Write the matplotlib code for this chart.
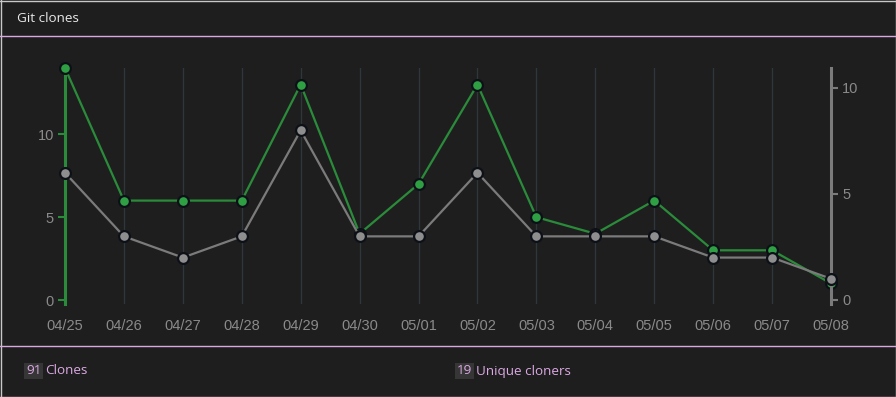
import matplotlib

matplotlib.use("Agg")
import matplotlib.pyplot as plt
from matplotlib.lines import Line2D

dates = ["04/25", "04/26", "04/27", "04/28", "04/29", "04/30", "05/01",
         "05/02", "05/03", "05/04", "05/05", "05/06", "05/07", "05/08"]
clones = [14, 6, 6, 6, 13, 4, 7, 13, 5, 4, 6, 3, 3, 1]
uniques = [6, 3, 2, 3, 8, 3, 3, 6, 3, 3, 3, 2, 2, 1]
total_clones = 91
total_uniques = 19

BG = "#1e1e1e"
GREEN = "#2a8c3a"
GREEN_DOT = "#2ea043"
GRAY = "#7b7b7b"
GRAY_DOT = "#8e8e8e"
EDGE = "#0d1117"
TICK = "#8a8a8a"
PINK = "#dba8e3"
GRID = "#30363d"

W, H = 896, 397
fig = plt.figure(figsize=(W / 100, H / 100), dpi=100, facecolor=BG)


def fx(px):
    return px / W


def fy(py):
    return 1 - py / H


# panel frame and separators
for xs, ys, c in [
    ([0, 1], [fy(0.5), fy(0.5)], "#c8c8c8"),
    ([0, 1], [fy(396.5), fy(396.5)], "#c8c8c8"),
    ([fx(0.5), fx(0.5)], [0, 1], "#c8c8c8"),
    ([fx(895.5), fx(895.5)], [0, 1], "#c8c8c8"),
    ([0, 1], [fy(35.5), fy(35.5)], PINK),
    ([0, 1], [fy(345.5), fy(345.5)], PINK),
]:
    fig.add_artist(Line2D(xs, ys, transform=fig.transFigure, color=c, lw=1.0))

fig.text(fx(17), fy(18), "Git clones", color="#e8e8e8", fontsize=9.7,
         family="Open Sans", va="center", ha="left")

# axes: x from 65 to 831 px, y from 68 to 304 px
ax = fig.add_axes([fx(65), fy(304), fx(831 - 65), (304 - 68) / H])
ax.set_facecolor("none")
ax2 = ax.twinx()
ax2.patch.set_visible(False)

x = list(range(len(dates)))
ax.plot(x, clones, color=GREEN, lw=1.6, marker="o", ms=7.8, mfc=GREEN_DOT,
        mec=EDGE, mew=1.6, clip_on=False, zorder=3)
ax2.plot(x, uniques, color=GRAY, lw=1.6, marker="o", ms=7.8, mfc=GRAY_DOT,
         mec=EDGE, mew=1.6, clip_on=False, zorder=3)

ax.set_xlim(0, len(dates) - 1)
ax.set_ylim(-0.24, 14)
ax2.set_ylim(-0.19, 10.94)

ax.set_xticks(x)
ax.set_xticklabels(dates)
ax.set_yticks([0, 5, 10])
ax2.set_yticks([0, 5, 10])

ax.grid(axis="x", color=GRID, lw=0.9)
ax.set_axisbelow(True)

for s in ["top", "right", "bottom"]:
    ax.spines[s].set_visible(False)
for s in ["top", "left", "bottom"]:
    ax2.spines[s].set_visible(False)
ax.spines["left"].set_color(GREEN)
ax.spines["left"].set_linewidth(2.2)
ax2.spines["right"].set_color(GRAY)
ax2.spines["right"].set_linewidth(2.2)

ax.tick_params(axis="x", length=0, pad=11, labelcolor=TICK, labelsize=10.5)
ax.tick_params(axis="y", length=5, width=1.5, color=GREEN, pad=3,
               labelcolor=TICK, labelsize=10.5)
ax2.tick_params(axis="y", length=5, width=1.5, color=GRAY, pad=3,
                labelcolor=TICK, labelsize=10.5)
for lab in ax.get_xticklabels() + ax.get_yticklabels() + ax2.get_yticklabels():
    lab.set_family("Liberation Sans")

# footer totals
box = dict(boxstyle="square,pad=0.12", fc="#363636", ec="none")
fig.text(fx(26), fy(371), str(total_clones), color=PINK, fontsize=9.7,
         family="Open Sans", va="center", ha="left", bbox=box)
fig.text(fx(45), fy(371), "Clones", color=PINK, fontsize=9.7,
         family="Open Sans", va="center", ha="left")
fig.text(fx(457), fy(371), str(total_uniques), color=PINK, fontsize=9.7,
         family="Open Sans", va="center", ha="left", bbox=box)
fig.text(fx(476), fy(371), "Unique cloners", color=PINK, fontsize=9.7,
         family="Open Sans", va="center", ha="left")

fig.savefig("out.png", dpi=100, facecolor=BG)
